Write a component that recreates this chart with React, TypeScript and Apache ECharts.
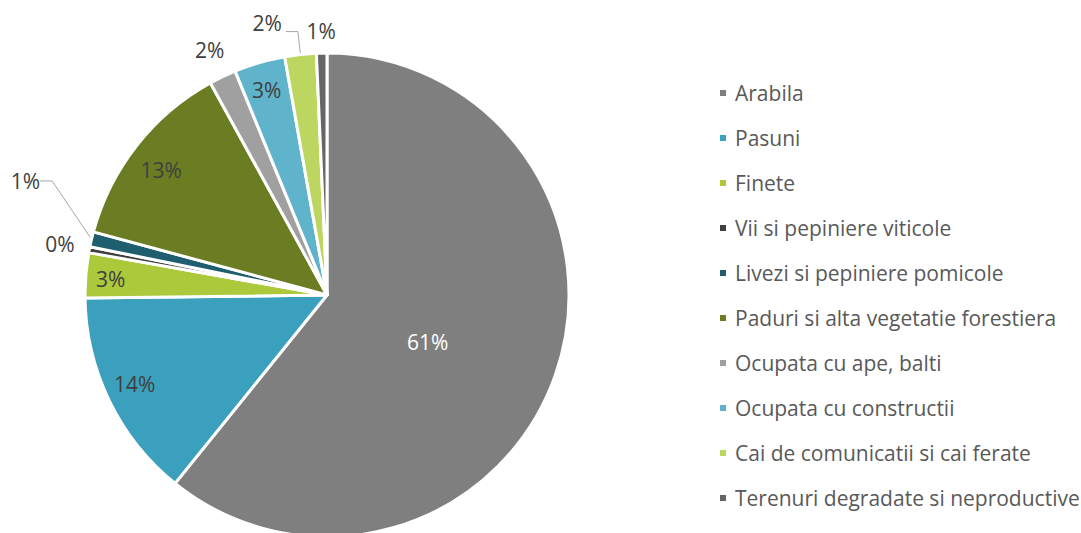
import React, { useEffect, useRef } from 'react';
import * as echarts from 'echarts';

const categories = [
  'Arabila',
  'Pasuni',
  'Finete',
  'Vii si pepiniere viticole',
  'Livezi si pepiniere pomicole',
  'Paduri si alta vegetatie forestiera',
  'Ocupata cu ape, balti',
  'Ocupata cu constructii',
  'Cai de comunicatii si cai ferate',
  'Terenuri degradate si neproductive',
];
const shares = [60.8, 14.0, 3.0, 0.4, 1.0, 12.8, 1.8, 3.4, 2.1, 0.7];
const colors = [
  '#7f7f7f', '#3ba0be', '#abc93a', '#404040', '#1f5e6e',
  '#6a7d22', '#a0a0a0', '#5fb3cb', '#bdd660', '#666666',
];
// which slices carry which kind of label
const ringLabels = [1, 2, 5, 7];
const centreLabels = [0];
const nearLabels = [3, 6];
const topLabels = [9];
const leaderLabels = [4, 8];

const FONT = 'Open Sans';
const pct = (p: any) => Math.round(p.percent) + '%';

export default function App() {
  const ref = useRef<HTMLDivElement>(null);
  useEffect(() => {
    if (!ref.current) return;
    const chart = echarts.init(ref.current, undefined, { renderer: 'svg' });
    const centre = [327, 295];
    const mk = (shown: number[], transparent: boolean) =>
      categories.map((name, i) => ({
        name,
        value: shares[i],
        itemStyle: { color: transparent ? 'rgba(0,0,0,0)' : colors[i] },
        label: { show: shown.includes(i) },
        labelLine: { show: shown.includes(i) },
      }));
    const base = {
      type: 'pie',
      center: centre,
      startAngle: 90,
      clockwise: true,
      silent: true,
      avoidLabelOverlap: false,
      emphasis: { disabled: true },
    };
    const labelStyle = { fontFamily: FONT, fontSize: 21, color: '#404040', formatter: pct };
    const ringNudge: Record<number, { dx: number; dy: number }> = {
      1: { dx: 2, dy: -5 },
      5: { dx: 4, dy: 8 },
      7: { dx: 0, dy: 2 },
      2: { dx: -1, dy: 2 },
    };
    chart.setOption({
      animation: false,
      legend: {
        orient: 'vertical',
        left: 713,
        top: 76,
        icon: 'rect',
        itemWidth: 8,
        itemHeight: 8,
        itemGap: 21,
        selectedMode: false,
        textStyle: { fontFamily: FONT, fontSize: 21, color: '#595959', lineHeight: 24, padding: [0, 0, 0, 3] },
        data: categories.map((name, i) => ({ name, itemStyle: { color: colors[i] } })),
      },
      series: [
        {
          ...base,
          name: 'main',
          radius: [0, 242],
          label: { show: false },
          labelLine: { show: false },
          itemStyle: { borderColor: '#ffffff', borderWidth: 3 },
          data: mk([], false),
        },
        {
          ...base,
          name: 'ringLabels',
          radius: [184, 242],
          label: { ...labelStyle, position: 'inside' },
          labelLayout: (p: any) => ringNudge[p.dataIndex] || {},
          data: mk(ringLabels, true),
        },
        {
          ...base,
          name: 'centreLabels',
          radius: [0, 212],
          label: { ...labelStyle, color: '#ffffff', position: 'inside' },
          labelLayout: (p: any) => (p.dataIndex === 0 ? { dx: -2, dy: 11 } : {}),
          data: mk(centreLabels, true),
        },
        {
          ...base,
          name: 'nearLabels',
          radius: [248, 290],
          label: { ...labelStyle, position: 'inside' },
          data: mk(nearLabels, true),
        },
        {
          ...base,
          name: 'topLabels',
          radius: [240, 282],
          label: { ...labelStyle, position: 'inside' },
          data: mk(topLabels, true),
        },
        {
          ...base,
          name: 'leaderLabels',
          radius: [0, 242],
          label: { ...labelStyle, position: 'outside', distanceToLabelLine: 4 },
          labelLine: { length: 23, length2: 12, lineStyle: { color: '#a6a6a6', width: 1 } },
          labelLayout: (p: any) => {
            if (p.dataIndex === 4) {
              return {
                x: p.labelRect.x + p.labelRect.width - 13,
                y: p.labelRect.y + p.labelRect.height / 2 - 53,
              };
            }
            if (p.dataIndex === 8) return { dy: -9 };
            return {};
          },
          data: mk(leaderLabels, true),
        },
      ],
    });
    return () => chart.dispose();
  }, []);
  return (
    <div
      ref={ref}
      style={{ position: 'fixed', left: 0, top: 0, width: 1081, height: 533, background: '#ffffff' }}
    />
  );
}
